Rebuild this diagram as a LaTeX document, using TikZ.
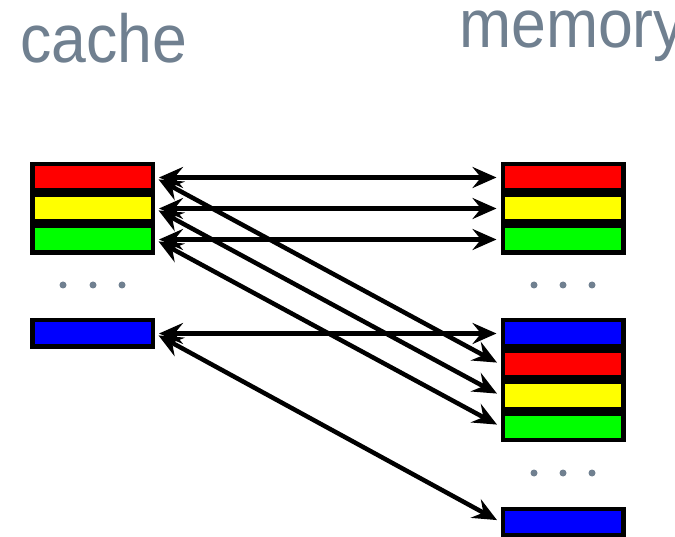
\documentclass[tikz,border=0pt]{standalone}
\usepackage{fontspec}
\newfontfamily\titlefont{Liberation Sans}[FakeStretch=0.92]
\usetikzlibrary{arrows.meta}
\definecolor{titlegrey}{RGB}{112,128,144}
\definecolor{lred}{RGB}{255,0,0}
\definecolor{lyellow}{RGB}{255,255,0}
\definecolor{lgreen}{RGB}{0,255,0}
\definecolor{lblue}{RGB}{0,0,255}
\tikzset{
  line/.style={draw=black, line width=4.5pt, rectangle, inner sep=0pt,
    minimum width=120.5pt, minimum height=26.5pt},
  lineR/.style={line, fill=lred},
  lineY/.style={line, fill=lyellow},
  lineG/.style={line, fill=lgreen},
  lineB/.style={line, fill=lblue},
  title/.style={anchor=base west, inner sep=0pt, text=titlegrey,
    font=\titlefont\fontsize{68}{82}\selectfont},
  dotmark/.style={circle, fill=titlegrey, inner sep=0pt, minimum size=7pt},
  link/.style={line width=4.5pt,
    {Stealth[length=24pt 0,width=21pt 0,inset=8.5pt 0]}-{Stealth[length=24pt 0,width=21pt 0,inset=8.5pt 0]},
    shorten <=4pt, shorten >=4pt}
}
\begin{document}
\begin{tikzpicture}[x=1pt, y=-1pt]
\useasboundingbox (0,0) rectangle (675,537);

% headings
\node[title] (tcache) at (20,63) {cache};
\node[title] (tmem) at (459,48) {memory};

% cache lines
\node[lineR] (c1) at (92.5,177.5) {};
\node[lineY] (c2) at (92.5,208.5) {};
\node[lineG] (c3) at (92.5,239.5) {};
\node[lineB] (c4) at (92.5,333.5) {};

% memory lines
\node[lineR] (m1) at (563,177.5) {};
\node[lineY] (m2) at (563,208.5) {};
\node[lineG] (m3) at (563,239.5) {};
\node[lineB] (m4) at (563,333.5) {};
\node[lineR] (m5) at (563,364.5) {};
\node[lineY] (m6) at (563,395.5) {};
\node[lineG] (m7) at (563,426.5) {};
\node[lineB] (m8) at (563,522) {};

% ellipses
\node[dotmark] (cd1) at (63,285) {};
\node[dotmark] (cd2) at (93,285) {};
\node[dotmark] (cd3) at (122,285) {};
\node[dotmark] (md1) at (534,285) {};
\node[dotmark] (md2) at (563,285) {};
\node[dotmark] (md3) at (592,285) {};
\node[dotmark] (me1) at (534,473) {};
\node[dotmark] (me2) at (563,473) {};
\node[dotmark] (me3) at (592,473) {};

% mappings between cache lines and memory blocks
\draw[link] (c1.east) -- (m1.west);
\draw[link] (c2.east) -- (m2.west);
\draw[link] (c3.east) -- (m3.west);
\draw[link] (c4.east) -- (m4.west);
\draw[link] (c1.east) -- (m5.west);
\draw[link] (c2.east) -- (m6.west);
\draw[link] (c3.east) -- (m7.west);
\draw[link] (c4.east) -- (m8.west);
\end{tikzpicture}
\end{document}
